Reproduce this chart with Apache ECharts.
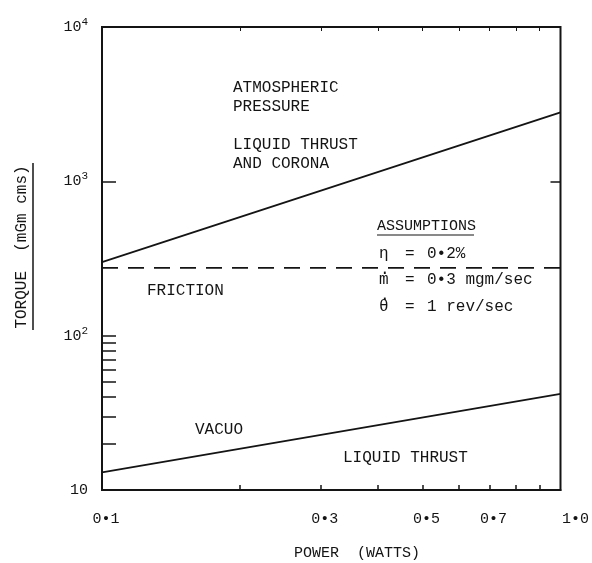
<!DOCTYPE html>
<html><head><meta charset="utf-8">
<script src="https://cdn.jsdelivr.net/npm/echarts@6/dist/echarts.min.js"></script>
<style>html,body{margin:0;padding:0;background:#fff}#c{width:592px;height:563px}</style>
</head><body><div id="c"></div>
<script>
// ---- data ----
const powerWatts = [0.1, 1.0];
const atmosphereTorque = [300, 2800];
const vacuoTorque = [13, 42];
const frictionTorque = [275, 275];
const xLabelValues = [0.1, 0.3, 0.5, 0.7, 1.0];
const xLabelTexts = ['0•1', '0•3', '0•5', '0•7', '1•0'];
const xMinorTicks = [0.2, 0.3, 0.4, 0.5, 0.6, 0.7, 0.8, 0.9];
const yMinorTicks = [20, 30, 40, 50, 60, 70, 80, 90, 100, 1000];

const INK = '#141414';
const FONT = '"Liberation Mono", "DejaVu Sans Mono", monospace';

function pairs(xs, ys) { return xs.map((x, i) => [x, ys[i]]); }

const chart = echarts.init(document.getElementById('c'));
function txt(text, x, y, opts) {
  return {
    type: 'text',
    style: Object.assign({ text: text, x: x, y: y, font: '16px ' + FONT, fill: INK, align: 'left', verticalAlign: 'middle' }, opts || {})
  };
}
const option = {
  backgroundColor: '#fff',
  animation: false,
  grid: { left: 102, right: 31, top: 27, bottom: 73, show: true, borderColor: INK, borderWidth: 2 },
  xAxis: [{
    type: 'log', logBase: 10, min: 0.1, max: 1,
    axisLine: { show: true, lineStyle: { color: INK, width: 2 } },
    axisTick: { show: true, inside: true, length: 5, customValues: xMinorTicks, lineStyle: { color: INK, width: 1.5 } },
    axisLabel: {
      customValues: xLabelValues, margin: 22, color: INK, fontFamily: FONT, fontSize: 15,
      formatter: function (v) {
        const i = xLabelValues.findIndex(d => Math.abs(d - v) < 1e-6);
        if (i < 0) return '';
        return (i === xLabelValues.length - 1 ? '{e|' : '{n|') + xLabelTexts[i] + '}';
      },
      rich: {
        n: { fontFamily: FONT, fontSize: 15, color: INK, padding: [0, 0, 0, 8] },
        e: { fontFamily: FONT, fontSize: 15, color: INK, padding: [0, 0, 0, 30] }
      }
    },
    splitLine: { show: false }, minorTick: { show: false }
  }, {
    type: 'log', logBase: 10, min: 0.1, max: 1, position: 'top',
    axisLine: { show: false },
    axisTick: { show: true, inside: true, length: 4, customValues: xMinorTicks, lineStyle: { color: INK, width: 1 } },
    axisLabel: { show: false }, splitLine: { show: false }
  }],
  yAxis: [{
    type: 'log', logBase: 10, min: 10, max: 10000,
    axisLine: { show: true, lineStyle: { color: INK, width: 2 } },
    axisTick: { show: true, inside: true, length: 14, customValues: yMinorTicks, lineStyle: { color: INK, width: 1.5 } },
    axisLabel: {
      margin: 14, color: INK, fontFamily: FONT, fontSize: 15,
      formatter: function (v) {
        const e = Math.round(Math.log10(v));
        return e === 1 ? '10' : '10{s|' + e + '}';
      },
      rich: { s: { fontFamily: FONT, fontSize: 11, color: INK, padding: [0, 0, 10, 0] } }
    },
    splitLine: { show: false }
  }, {
    type: 'log', logBase: 10, min: 10, max: 10000, position: 'right',
    axisLine: { show: false },
    axisTick: { show: true, inside: true, length: 10, customValues: [1000], lineStyle: { color: INK, width: 1.5 } },
    axisLabel: { show: false }, splitLine: { show: false }
  }],
  series: [
    { type: 'line', name: 'atmospheric', data: pairs(powerWatts, atmosphereTorque), symbol: 'none', lineStyle: { color: INK, width: 1.8 } },
    { type: 'line', name: 'vacuo', data: pairs(powerWatts, vacuoTorque), symbol: 'none', lineStyle: { color: INK, width: 1.8 } },
    { type: 'line', name: 'friction', data: pairs(powerWatts, frictionTorque), symbol: 'none', lineStyle: { color: INK, width: 1.6, type: [16, 10] } }
  ],
  graphic: [
    txt('ATMOSPHERIC', 233, 88),
    txt('PRESSURE', 233, 107),
    txt('LIQUID THRUST', 233, 145),
    txt('AND CORONA', 233, 164),
    txt('ASSUMPTIONS', 377, 226, { font: '15px ' + FONT }),
    { type: 'line', shape: { x1: 377, y1: 235, x2: 474, y2: 235 }, style: { stroke: INK, lineWidth: 1.2 } },
    txt('η', 379, 254), txt('=', 405, 254), txt('0•2%', 427, 254),
    txt('.', 380, 270), txt('m', 379, 280), txt('=', 405, 280), txt('0•3 mgm/sec', 427, 280),
    txt('.', 380, 296), txt('θ', 379, 307), txt('=', 405, 307), txt('1 rev/sec', 427, 307),
    txt('FRICTION', 147, 291),
    txt('VACUO', 195, 430),
    txt('LIQUID THRUST', 343, 458),
    txt('POWER  (WATTS)', 357, 553, { align: 'center', font: '15px ' + FONT }),
    { type: 'text', x: 22, y: 247, rotation: Math.PI / 2,
      style: { text: 'TORQUE  (mGm cms)', x: 0, y: 0, font: '16px ' + FONT, fill: INK, align: 'center', verticalAlign: 'middle' } },
    { type: 'line', shape: { x1: 33, y1: 163, x2: 33, y2: 330 }, style: { stroke: INK, lineWidth: 1.5 } }
  ]
};
chart.setOption(option);
</script></body></html>
